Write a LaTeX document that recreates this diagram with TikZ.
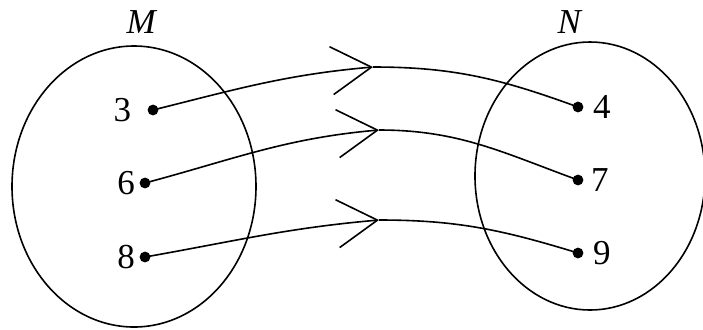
\documentclass[tikz,border=0pt]{standalone}
\usepackage{fontspec}
\setmainfont{Liberation Serif}
\usetikzlibrary{arrows.meta,positioning}

\begin{document}
\begin{tikzpicture}[
  x=0.5pt, y=-0.5pt,
  line width=0.8pt,
  font=\fontsize{17.5}{21}\selectfont,
  dot/.style={circle, fill, inner sep=0pt, minimum size=5.4pt},
  num/.style={inner sep=0pt},
  arr/.style={-{Straight Barb[length=20pt, width=24pt, line width=0.8pt]}},
]
\useasboundingbox (0,0) rectangle (703,329);
% the two sets
\draw (134,186.5) ellipse [x radius=122, y radius=140.5];
\draw (590,176) ellipse [x radius=115, y radius=134];
\node[num] (setM) at (142,22) {\textit{M}};
\node[num] (setN) at (570,22) {\textit{N}};
% elements of M
\node[dot] (d3) at (153,110) {};
\node[dot] (d6) at (145,183) {};
\node[dot] (d8) at (145,257) {};
\node[num, left=7.5pt of d3] (l3) {3};
\node[num, left=1.5pt of d6] (l6) {6};
\node[num, left=1.5pt of d8] (l8) {8};
% elements of N
\node[dot] (d4) at (578,107) {};
\node[dot] (d7) at (578,180) {};
\node[dot] (d9) at (578,253) {};
\node[num, right=4pt of d4] (l4) {4};
\node[num, right=3pt of d7] (l7) {7};
\node[num, right=4pt of d9] (l9) {9};
% mapping arrows
\coordinate (m1) at (373,67);
\coordinate (m2) at (379,130);
\coordinate (m3) at (379,220);
\draw[arr] (d3.center) to[out=14, in=185] (m1);
\draw (m1) to[out=0, in=160] (d4.center);
\draw[arr] (d6.center) to[out=15, in=185] (m2);
\draw (m2) to[out=0, in=160] (d7.center);
\draw[arr] (d8.center) to[out=10, in=185] (m3);
\draw (m3) to[out=0, in=163] (d9.center);
\end{tikzpicture}
\end{document}
